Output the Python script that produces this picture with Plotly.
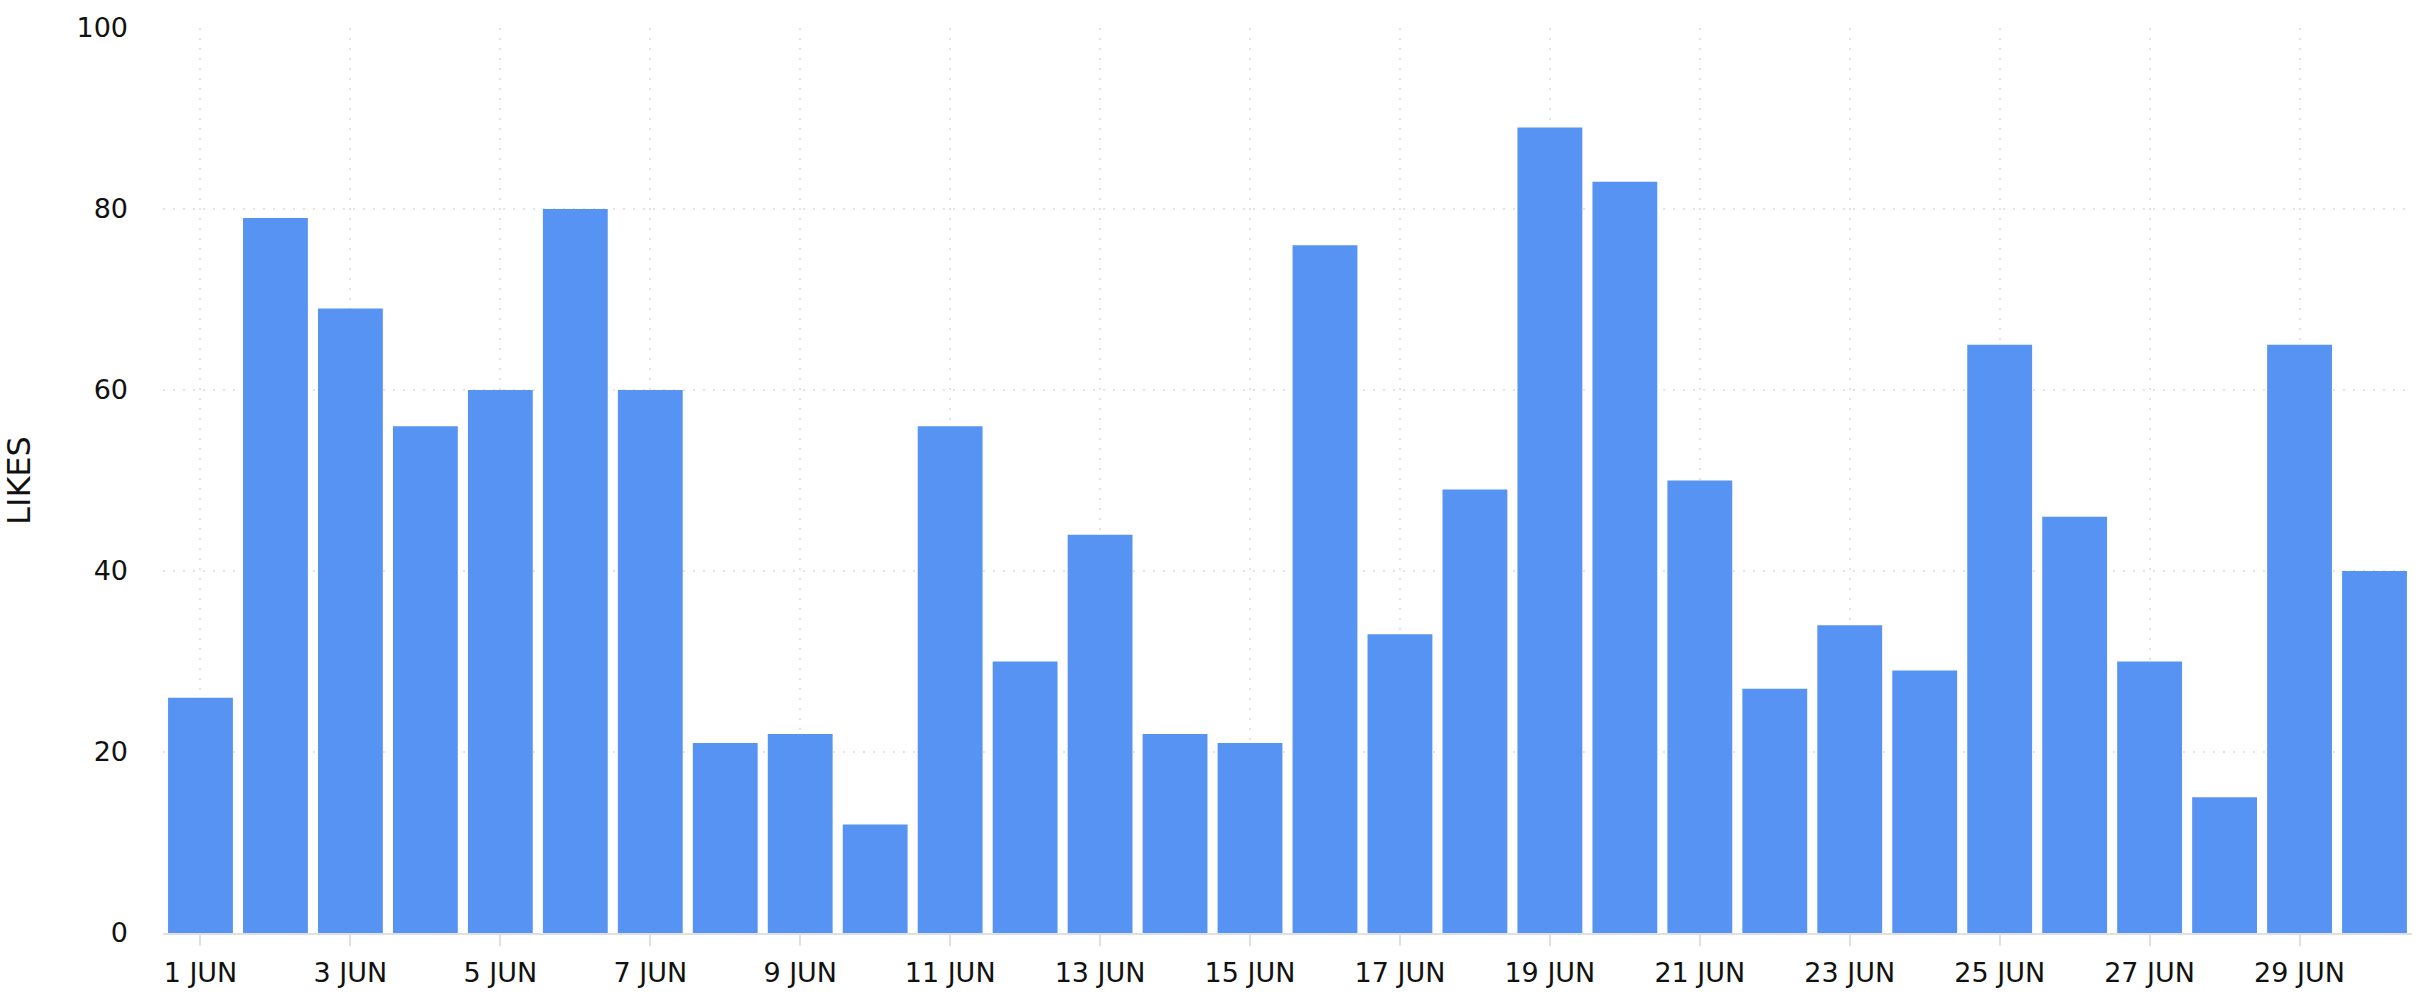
import plotly.graph_objects as go
import pandas as pd

# Daily likes for June
dates = pd.date_range("2024-06-01", "2024-06-30", freq="D")
likes = [26, 79, 69, 56, 60, 80, 60, 21, 22, 12,
         56, 30, 44, 22, 21, 76, 33, 49, 89, 83,
         50, 27, 34, 29, 65, 46, 30, 15, 65, 40]

# Tick labels every second day
tick_dates = dates[::2]
tick_labels = [f"{d.day} JUN" for d in tick_dates]

bar_color = "#5793f3"
grid_color = "#e3e3e3"
axis_color = "#e0e0e0"

fig = go.Figure()

fig.add_trace(
    go.Bar(
        x=dates,
        y=likes,
        marker=dict(color=bar_color, line=dict(width=0)),
        hovertemplate="%{x|%d %b}<br>Likes: %{y}<extra></extra>",
    )
)

fig.update_layout(
    width=2425,
    height=1000,
    margin=dict(l=163, r=13, t=23, b=64),
    paper_bgcolor="white",
    plot_bgcolor="white",
    bargap=0.135,
    showlegend=False,
    font=dict(family="DejaVu Sans", size=27, color="#111111"),
)

fig.update_xaxes(
    tickvals=tick_dates,
    ticktext=tick_labels,
    showgrid=True,
    gridcolor=grid_color,
    gridwidth=2,
    griddash="2px,8px",
    showline=True,
    linecolor=axis_color,
    linewidth=2,
    ticks="outside",
    ticklen=11,
    tickwidth=2,
    tickcolor=axis_color,
    ticklabelstandoff=4,
    zeroline=False,
)

fig.update_yaxes(
    range=[0, 100],
    dtick=20,
    showgrid=True,
    gridcolor=grid_color,
    gridwidth=2,
    griddash="2px,8px",
    zeroline=False,
    showline=False,
    ticklabelstandoff=34,
    title=dict(text="LIKES", standoff=36),
)

# drop the default page margin so the figure sits flush in the window
fig.write_html(
    "out.html",
    config={"displayModeBar": False},
    post_script="document.body.style.margin = '0';",
)
